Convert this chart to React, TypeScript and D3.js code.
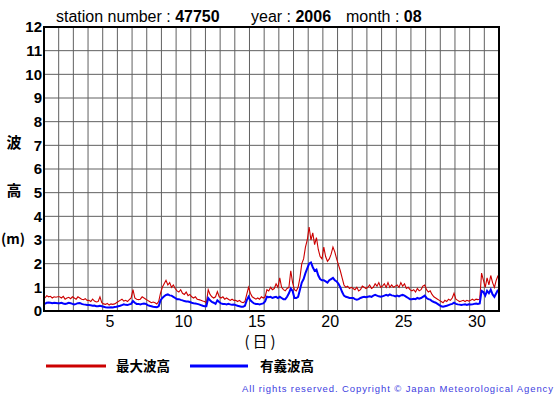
import React from "react";
import * as d3 from "d3";

const days: number[] = d3.range(1, 32);
const dayLabels: number[] = [5, 10, 15, 20, 25, 30];
const yTicks: number[] = d3.range(0, 13);

// 3-hourly values (8 per day), metres
const maxWave: number[] = [
  0.55,0.65,0.6,0.62,0.55,0.6,0.58,0.6,
  0.6,0.55,0.62,0.5,0.55,0.58,0.52,0.6,
  0.55,0.5,0.6,0.55,0.5,0.48,0.52,0.45,
  0.45,0.4,0.5,0.42,0.38,0.4,0.6,0.35,
  0.3,0.28,0.32,0.25,0.3,0.28,0.3,0.35,
  0.4,0.45,0.5,0.42,0.45,0.4,0.48,0.55,
  0.9,0.55,0.5,0.48,0.5,0.6,0.55,0.5,
  0.45,0.4,0.35,0.38,0.35,0.3,0.4,0.75,
  1.0,1.15,1.3,1.1,1.2,1.0,1.1,0.95,
  0.85,0.8,0.9,0.75,0.7,0.8,0.65,0.7,
  0.6,0.55,0.6,0.5,0.48,0.45,0.42,0.4,
  0.35,0.9,0.7,0.6,0.55,0.6,0.82,0.6,
  0.55,0.6,0.5,0.55,0.5,0.45,0.5,0.45,
  0.45,0.4,0.45,0.38,0.35,0.4,0.7,1.0,
  0.75,0.6,0.55,0.5,0.55,0.5,0.6,0.55,
  0.6,0.9,0.85,1.0,0.9,0.95,1.15,1.0,
  1.4,1.0,0.9,0.85,0.95,1.0,1.7,1.2,
  0.9,0.85,1.0,1.4,2.0,2.2,2.7,3.0,
  3.55,3.0,3.3,2.8,3.1,2.6,2.3,2.2,
  2.7,2.3,2.1,2.2,2.4,2.7,2.5,2.2,
  1.95,1.7,1.4,1.1,1.0,1.05,0.95,1.0,
  0.95,0.9,1.0,0.85,0.9,1.05,1.0,0.95,
  1.0,1.1,0.95,1.0,1.15,1.05,1.2,1.0,
  1.05,1.15,1.0,1.2,1.0,1.1,1.0,1.05,
  1.1,1.0,1.2,1.05,1.15,0.95,1.0,0.9,
  0.85,0.9,0.8,0.95,0.85,0.9,1.05,1.1,
  0.9,0.8,0.85,0.7,0.6,0.55,0.5,0.45,
  0.4,0.35,0.45,0.4,0.5,0.45,0.55,0.75,
  0.5,0.45,0.4,0.42,0.45,0.4,0.45,0.42,
  0.45,0.5,0.45,0.5,0.48,0.5,1.6,1.3,
  1.0,1.4,1.1,1.5,1.2,1.0,1.3,1.5,
];

const sigWave: number[] = [
  0.3,0.35,0.36,0.35,0.33,0.35,0.34,0.33,
  0.33,0.35,0.32,0.3,0.32,0.35,0.33,0.3,
  0.28,0.3,0.33,0.34,0.3,0.28,0.27,0.25,
  0.25,0.24,0.22,0.23,0.2,0.2,0.22,0.2,
  0.18,0.16,0.15,0.15,0.16,0.15,0.17,0.18,
  0.2,0.22,0.25,0.28,0.26,0.25,0.28,0.3,
  0.42,0.35,0.3,0.3,0.28,0.3,0.32,0.3,
  0.25,0.22,0.2,0.18,0.17,0.16,0.2,0.45,
  0.55,0.62,0.68,0.7,0.66,0.65,0.6,0.55,
  0.5,0.5,0.47,0.45,0.42,0.4,0.4,0.38,
  0.35,0.33,0.32,0.3,0.28,0.25,0.22,0.2,
  0.2,0.55,0.45,0.38,0.35,0.3,0.45,0.38,
  0.32,0.3,0.3,0.28,0.3,0.28,0.26,0.27,
  0.25,0.22,0.2,0.18,0.18,0.22,0.45,0.6,
  0.45,0.38,0.32,0.3,0.3,0.28,0.3,0.32,
  0.4,0.6,0.58,0.6,0.55,0.58,0.6,0.55,
  0.6,0.55,0.5,0.5,0.6,0.75,0.95,0.85,
  0.55,0.55,0.6,0.9,1.2,1.35,1.6,1.8,
  2.0,2.05,1.85,1.7,1.75,1.5,1.35,1.3,
  1.3,1.25,1.2,1.3,1.35,1.4,1.3,1.25,
  1.15,1.0,0.8,0.65,0.6,0.58,0.55,0.55,
  0.55,0.5,0.48,0.5,0.55,0.58,0.6,0.58,
  0.6,0.62,0.6,0.65,0.68,0.65,0.62,0.6,
  0.62,0.65,0.68,0.65,0.7,0.66,0.65,0.62,
  0.65,0.62,0.66,0.68,0.65,0.6,0.55,0.5,
  0.5,0.52,0.5,0.55,0.52,0.55,0.6,0.65,
  0.55,0.5,0.48,0.42,0.38,0.35,0.3,0.25,
  0.2,0.18,0.2,0.22,0.25,0.28,0.3,0.35,
  0.3,0.28,0.27,0.25,0.27,0.28,0.26,0.28,
  0.27,0.28,0.3,0.32,0.3,0.32,0.85,0.8,
  0.65,0.85,0.75,0.9,0.7,0.6,0.75,0.9,
];

const stationNumber = "47750";
const year = "2006";
const month = "08";
const seriesNames = ["最大波高", "有義波高"];
const seriesColors = ["#cc0000", "#0000ff"];

const W = 555, H = 395;
const L = 44, R = 499, T = 27, B = 311;
const latin = "'Liberation Sans', Arial, sans-serif";
const cjk = "'Noto Sans CJK JP', sans-serif";

export default function App() {
  const x = d3.scaleLinear().domain([0, 31]).range([L, R]);
  const y = d3.scaleLinear().domain([0, 12]).range([B, T]);
  const line = d3.line<number>()
    .x((_, i) => x(i / 8 + 1 / 16))
    .y((v) => y(v));

  return (
    <svg width={W} height={H} style={{ position: "absolute", left: 0, top: 0 }}>
      <rect width={W} height={H} fill="#fff" />
      {/* title */}
      <text x={56} y={22} fontFamily={latin} fontSize={16} fill="#000">
        station number : <tspan fontWeight="bold">{stationNumber}</tspan>
      </text>
      <text x={251} y={22} fontFamily={latin} fontSize={16} fill="#000">
        year : <tspan fontWeight="bold">{year}</tspan>
      </text>
      <text x={346} y={22} fontFamily={latin} fontSize={16} fill="#000">
        month : <tspan fontWeight="bold">{month}</tspan>
      </text>
      {/* grid */}
      {days.map((d) => (
        <line key={"v" + d} x1={x(d)} x2={x(d)} y1={T} y2={B} stroke="#606060" strokeWidth={1} />
      ))}
      {yTicks.map((t) => (
        <line key={"h" + t} x1={L} x2={R} y1={y(t)} y2={y(t)} stroke="#606060" strokeWidth={1} />
      ))}
      {/* series */}
      <path d={line(maxWave) || ""} fill="none" stroke={seriesColors[0]} strokeWidth={1.1} />
      <path d={line(sigWave) || ""} fill="none" stroke={seriesColors[1]} strokeWidth={2} />
      {/* frame */}
      <rect x={L} y={T} width={R - L} height={B - T} fill="none" stroke="#000" strokeWidth={2} />
      {/* y tick labels */}
      {yTicks.map((t) => (
        <text key={"yl" + t} x={42} y={y(t)} dy="0.36em" textAnchor="end" fontFamily={latin}
          fontWeight="bold" fontSize={15} fill="#000">{t}</text>
      ))}
      {/* x tick labels */}
      {dayLabels.map((d) => (
        <text key={"xl" + d} x={x(d - 0.5)} y={327} textAnchor="middle" fontFamily={latin}
          fontSize={16} fill="#000">{d}</text>
      ))}
      <text x={260} y={347} textAnchor="middle" fontFamily={cjk} fontSize={15} fill="#000"
        textLength={31} lengthAdjust="spacing">(日)</text>
      {/* y axis title */}
      <text x={14} y={143} dy="0.36em" textAnchor="middle" fontFamily={cjk} fontWeight="bold" fontSize={15}>波</text>
      <text x={14} y={191} dy="0.36em" textAnchor="middle" fontFamily={cjk} fontWeight="bold" fontSize={15}>高</text>
      <text x={13} y={239} dy="0.36em" textAnchor="middle" fontFamily={cjk} fontWeight="bold" fontSize={14}>(m)</text>
      {/* legend */}
      <line x1={46} x2={106} y1={366} y2={366} stroke={seriesColors[0]} strokeWidth={3} />
      <text x={116} y={371} fontFamily={cjk} fontWeight="bold" fontSize={13.5}>{seriesNames[0]}</text>
      <line x1={190} x2={248} y1={366} y2={366} stroke={seriesColors[1]} strokeWidth={3} />
      <text x={260} y={371} fontFamily={cjk} fontWeight="bold" fontSize={13.5}>{seriesNames[1]}</text>
      {/* copyright */}
      <text x={242} y={392} fontFamily={latin} fontSize={9.5} fill="#4040e0"
        textLength={311} lengthAdjust="spacing">
        All rights reserved. Copyright © Japan Meteorological Agency
      </text>
    </svg>
  );
}
